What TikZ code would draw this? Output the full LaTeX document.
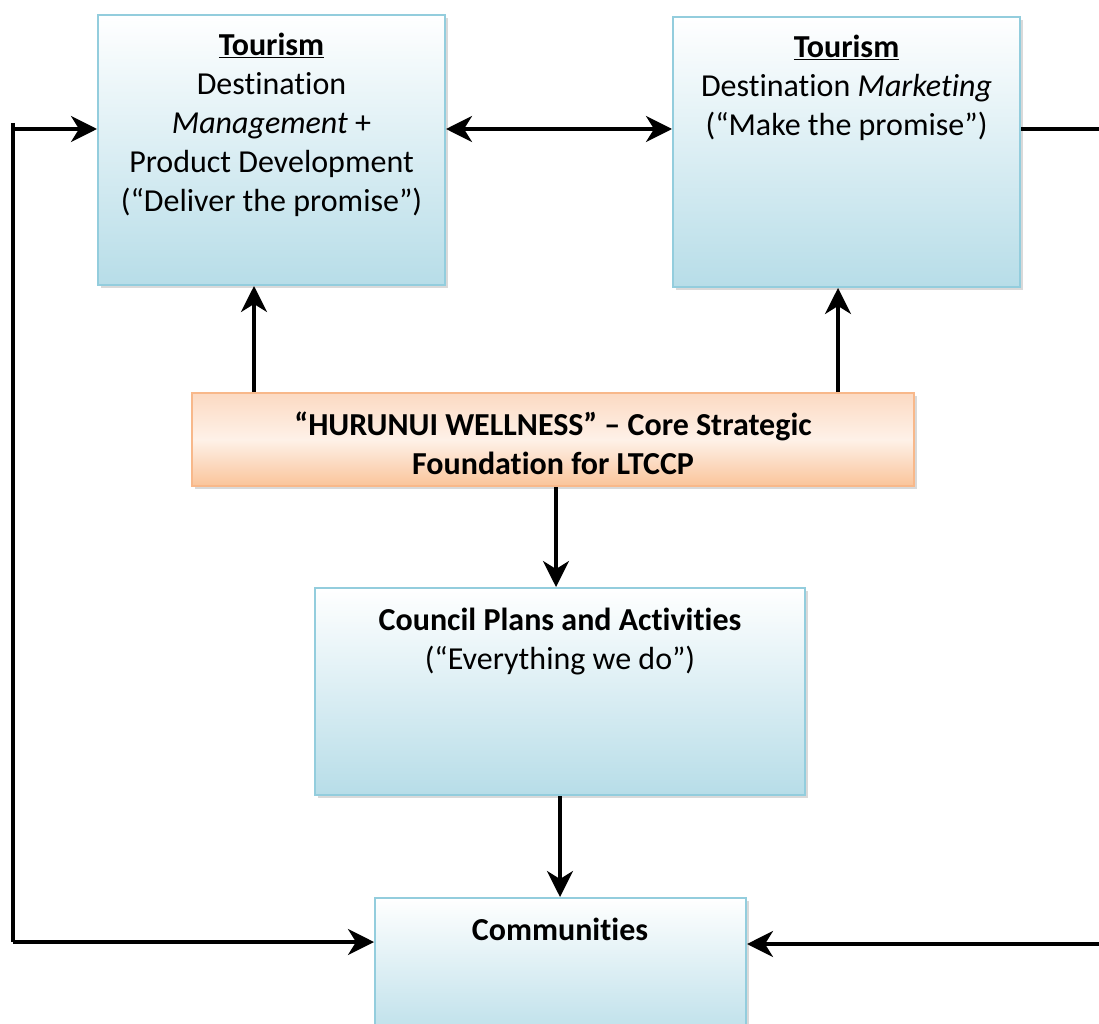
\documentclass[tikz,border=0pt]{standalone}
\usepackage{fontspec}
\setmainfont{Carlito}[Ligatures=NoCommon]
\usetikzlibrary{arrows.meta,shadows}
\definecolor{BoxBlue}{HTML}{B7DDE8}
\definecolor{BoxBorder}{HTML}{93CDDD}
\definecolor{OrangeTop}{HTML}{FCDAC2}
\definecolor{OrangeMid}{HTML}{FEF1E8}
\definecolor{OrangeBottom}{HTML}{FAC49A}
\definecolor{OrangeBorder}{HTML}{F8B88A}
\tikzset{
  BlueBox/.style={draw=BoxBorder, line width=2pt, top color=white, bottom color=BoxBlue,
    drop shadow={opacity=0.3, shadow xshift=3pt, shadow yshift=-3pt}, inner sep=0pt},
  OrangeBox/.style={draw=OrangeBorder, line width=2pt, top color=OrangeTop, bottom color=OrangeBottom,
    middle color=OrangeMid, drop shadow={opacity=0.3, shadow xshift=3pt, shadow yshift=-3pt}, inner sep=0pt},
  BoxText/.style={align=center, inner sep=0pt, font=\fontsize{32}{39}\selectfont},
  Link/.style={line width=3.5pt, -{Stealth[length=26pt, width=26pt, inset=8pt]}},
  TwoWay/.style={line width=3.5pt, {Stealth[length=26pt, width=26pt, inset=8pt]}-{Stealth[length=26pt, width=26pt, inset=8pt]}},
  Plain/.style={line width=3.5pt}
}
\begin{document}
\begin{tikzpicture}[x=1pt, y=-1pt]
            \useasboundingbox (0,0) rectangle (1099,1024);
            \clip (0,0) rectangle (1099,1024);

            \node[BlueBox, minimum width=347pt, minimum height=270pt] (DestMgmt) at (271.5,150) {};
            \node[BlueBox, minimum width=347pt, minimum height=270pt] (DestMarketing) at (846.5,152) {};
            \node[OrangeBox, minimum width=722pt, minimum height=93pt] (CoreFoundation) at (553,439.5) {};
            \node[BlueBox, minimum width=490pt, minimum height=207pt] (CouncilPlans) at (560,691.5) {};
            \node[BlueBox, minimum width=371pt, minimum height=150pt] (Communities) at (560.5,973) {};

            \node[BoxText, anchor=base] (DestMgmtText) at (271.5,212) {\textbf{\underline{Tourism}}\\Destination\\\textit{Management} +\\Product Development\\(“Deliver the promise”)};
            \node[BoxText, anchor=base] (DestMarketingText) at (846.5,136) {\textbf{\underline{Tourism}}\\Destination \textit{Marketing}\\(“Make the promise”)};
            \node[BoxText, anchor=base, font=\fontsize{32}{39}\selectfont\bfseries] (CoreText) at (553,474) {“HURUNUI WELLNESS” – Core Strategic\\Foundation for LTCCP};
            \node[BoxText, anchor=base] (CouncilText) at (560,669) {\textbf{Council Plans and Activities}\\(“Everything we do”)};
            \node[BoxText, anchor=base, font=\fontsize{32}{39}\selectfont\bfseries] (CommunitiesText) at (560,940) {Communities};

            \coordinate (LeftTop) at (13,129);
            \coordinate (LeftBottom) at (13,942);
            \coordinate (RightTop) at (1099,129);
            \coordinate (RightBottom) at (1099,944);
            \coordinate (MgmtUp) at (254,0);
            \coordinate (MarketingUp) at (838,0);
            \coordinate (CoreDown) at (556,0);
            \coordinate (CouncilDown) at (560,0);

            \draw[Plain] ([yshift=6pt]LeftTop) -- (LeftBottom);
            \draw[Link] (LeftTop) -- (LeftTop -| DestMgmt.west);
            \draw[Link] (LeftBottom) -- (LeftBottom -| Communities.west);
            \draw[TwoWay] (LeftTop -| DestMgmt.east) -- (LeftTop -| DestMarketing.west);
            \draw[Plain] (RightTop -| DestMarketing.east) -- (RightTop);
            \draw[Link] (RightBottom) -- (RightBottom -| Communities.east);
            \draw[Link] (MgmtUp |- CoreFoundation.north) -- (MgmtUp |- DestMgmt.south);
            \draw[Link] (MarketingUp |- CoreFoundation.north) -- (MarketingUp |- DestMarketing.south);
            \draw[Link] (CoreDown |- CoreFoundation.south) -- (CoreDown |- CouncilPlans.north);
            \draw[Link] (CouncilDown |- CouncilPlans.south) -- (CouncilDown |- Communities.north);
        \end{tikzpicture}
\end{document}
